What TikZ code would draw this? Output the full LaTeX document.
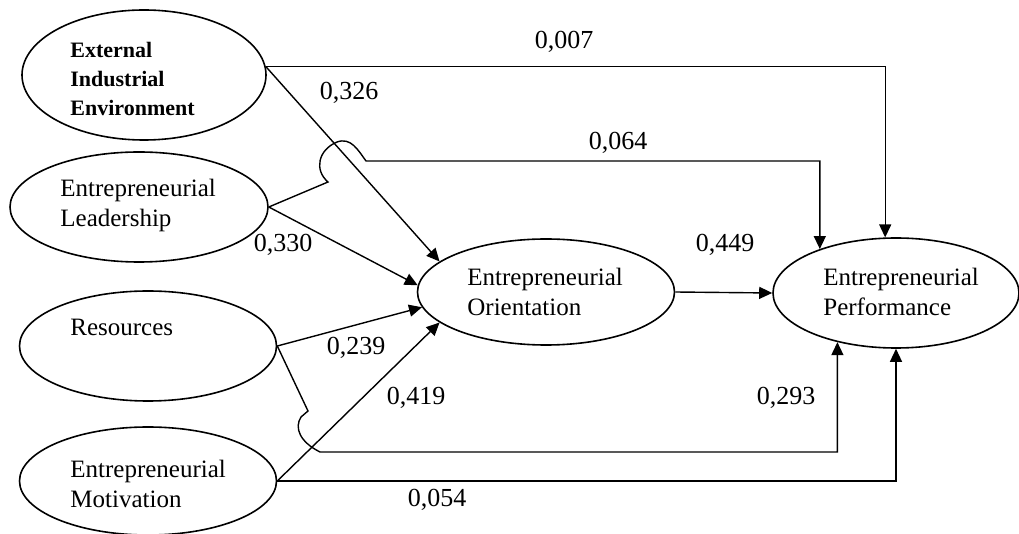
\documentclass[tikz,border=0pt]{standalone}
\usepackage{fontspec}
\setmainfont{Liberation Serif}
\usetikzlibrary{arrows.meta,shapes.geometric}

\begin{document}
\begin{tikzpicture}[x=0.5pt, y=-0.5pt,
  latent/.style={ellipse, draw, line width=0.8pt, inner sep=0pt},
  lbl/.style={anchor=west, align=left, inner sep=0pt,
              font=\fontsize{12.5}{15}\selectfont},
  coef/.style={inner sep=0pt, font=\fontsize{13}{15}\selectfont},
  link/.style={-{Triangle[length=6.5pt,width=6pt]}, line width=0.7pt}]
  \useasboundingbox (0,0) rectangle (1019,534);
  % Exogenous constructs
  \node[latent, minimum width=122pt, minimum height=65pt] (EIE) at (144,75) {};
  \node[latent, minimum width=129pt, minimum height=55pt] (EL) at (139,207) {};
  \node[latent, minimum width=128.5pt, minimum height=55pt] (Res) at (148,346) {};
  \node[latent, minimum width=128.5pt, minimum height=54pt] (EM) at (148,481) {};
  % Endogenous constructs
  \node[latent, minimum width=128.5pt, minimum height=53pt] (EO) at (546,292) {};
  \node[latent, minimum width=123pt, minimum height=55pt] (EP) at (896,293) {};
  % Construct names
  \node[lbl, font=\bfseries\fontsize{11}{14.5}\selectfont] (EIEtxt) at (70,79)
       {External\\Industrial\\Environment};
  \node[lbl] (ELtxt) at (60,205) {Entrepreneurial\\Leadership};
  \node[lbl] (Restxt) at (70,327) {Resources};
  \node[lbl] (EMtxt) at (70,484) {Entrepreneurial\\Motivation};
  \node[lbl] (EOtxt) at (467,292) {Entrepreneurial\\Orientation};
  \node[lbl] (EPtxt) at (823,292) {Entrepreneurial\\Performance};
  % Paths
  \draw[link] (EIE.4) -| (EP.101);
  \draw[link] (EIE.4) -- (EO.164);
  \draw[link] (EL.east) -- (328,182) .. controls (314,170) and (318,150) .. (337,142)
              .. controls (351,137) and (358,150) .. (366,161) -| (EP.150);
  \draw[link] (EL.east) -- (EO.177);
  \draw[link] (Res.east) -- (EO.187);
  \draw[link] (Res.east) -- (308,411) -- (301,417) .. controls (294,428) and (300,442)
              .. (320,452) -| (EP.220);
  \draw[link] (EM.east) -- (EO.196);
  \draw[link] (EM.east) -| (EP.south);
  \draw[link] (EO.east) -- (EP.west);
  % Coefficients
  \node[coef] (c007) at (564,42) {0,007};
  \node[coef] (c326) at (349,93) {0,326};
  \node[coef] (c064) at (618,143) {0,064};
  \node[coef] (c330) at (283,245) {0,330};
  \node[coef] (c449) at (725,245) {0,449};
  \node[coef] (c239) at (356,348) {0,239};
  \node[coef] (c419) at (416,398) {0,419};
  \node[coef] (c293) at (786,398) {0,293};
  \node[coef] (c054) at (437,500) {0,054};
\end{tikzpicture}
\end{document}
